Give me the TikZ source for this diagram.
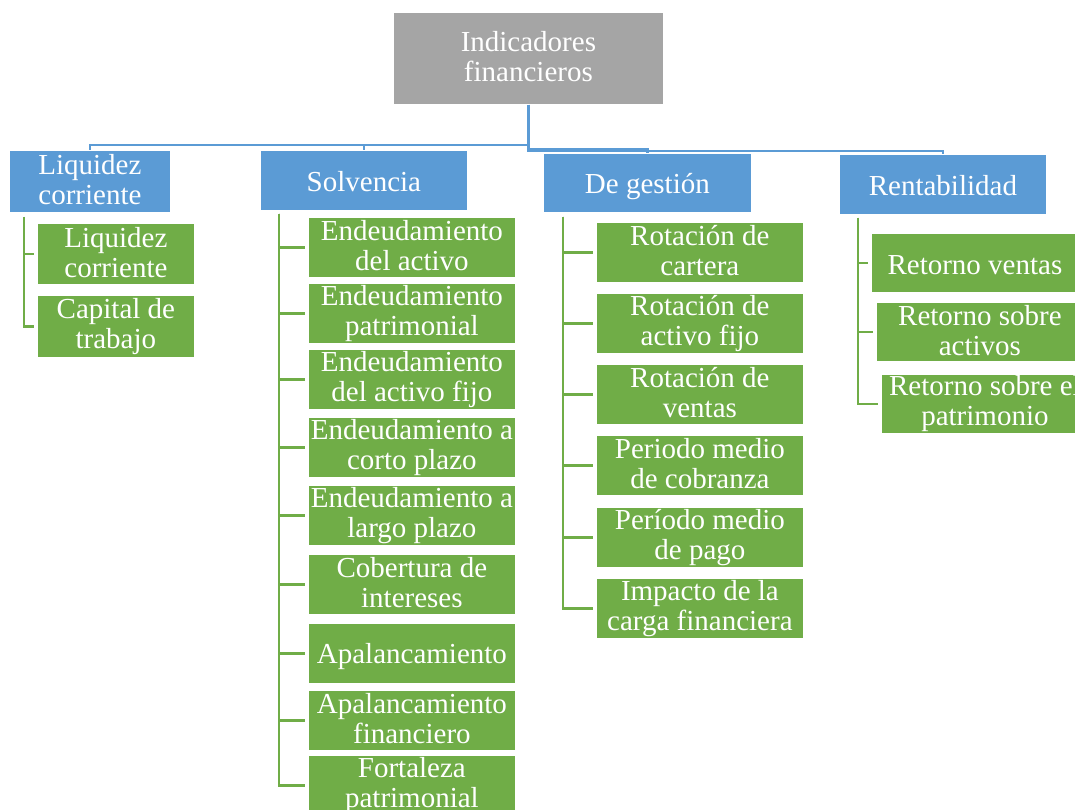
\documentclass[tikz,border=0pt]{standalone}
\usepackage{fontspec}
\setmainfont{Liberation Serif}
\usetikzlibrary{calc}
\definecolor{hdrblue}{HTML}{5B9BD5}
\definecolor{leafgreen}{HTML}{70AD47}
\definecolor{rootgray}{HTML}{A5A5A5}
\newcommand{\topstrut}{\rule{0pt}{26.5pt}}
\newcommand{\botstrut}{\rule[-3.5pt]{0pt}{3.5pt}}
\begin{document}
\begin{tikzpicture}[x=1pt,y=-1pt,
  box/.style={rectangle, anchor=north west, inner sep=0pt, draw=white, line width=0.8pt,
    text=white, align=center, font=\fontsize{29}{30}\selectfont,
    execute at begin node=\topstrut, execute at end node=\botstrut},
  rootbox/.style={box, fill=rootgray},
  hdr/.style={box, fill=hdrblue},
  leaf/.style={box, fill=leafgreen, minimum width=207pt, minimum height=60pt},
  smallleaf/.style={box, fill=leafgreen, minimum width=157pt, minimum height=61pt},
  bline/.style={draw=hdrblue, line width=2.3pt},
  gline/.style={draw=leafgreen, line width=2.6pt},
]
\useasboundingbox (0,0) rectangle (1075,810);
\clip (0,0) rectangle (1075,810);
\fill[white] (0,0) rectangle (1075,810);

% root and headers
\node[rootbox, minimum width=270pt, minimum height=92pt] (root) at (393,12) {Indicadores\\financieros};
\node[hdr, minimum width=161pt, minimum height=62pt] (liqh) at (9,150) {Liquidez\\corriente};
\node[hdr, minimum width=207pt, minimum height=60pt] (solvh) at (260,150) {Solvencia};
\node[hdr, minimum width=208pt, minimum height=59pt] (gesth) at (543,153) {De gestión};
\node[hdr, minimum width=207pt, minimum height=60pt] (renth) at (839,154) {Rentabilidad};

% blue connectors
\draw[bline] (root.south) -- ++(0,40) -| (liqh.north);
\draw[bline] (root.south) -- ++(0,40) -| (solvh.north);
\draw[bline] (root.south) -- ++(0,44) -| (gesth.north);
\draw[bline] (root.south) -- ++(0,46) -| (renth.north);

% Liquidez children
\node[smallleaf] (l1) at (37,223) {Liquidez\\corriente};
\node[smallleaf, minimum height=62pt] (l2) at (37,295) {Capital de\\trabajo};

% Solvencia children
\node[leaf] (s1) at (308,217) {Endeudamiento\\del activo};
\node[leaf] (s2) at (308,283) {Endeudamiento\\patrimonial};
\node[leaf] (s3) at (308,349) {Endeudamiento\\del activo fijo};
\node[leaf] (s4) at (308,417) {Endeudamiento a\\corto plazo};
\node[leaf] (s5) at (308,485) {Endeudamiento a\\largo plazo};
\node[leaf] (s6) at (308,554) {Cobertura de\\intereses};
\node[leaf] (s7) at (308,623) {Apalancamiento};
\node[leaf] (s8) at (308,690) {Apalancamiento\\financiero};
\node[leaf] (s9) at (308,755) {Fortaleza\\patrimonial};

% De gestion children
\node[leaf] (g1) at (596,222) {Rotación de\\cartera};
\node[leaf] (g2) at (596,293) {Rotación de\\activo fijo};
\node[leaf] (g3) at (596,364) {Rotación de\\ventas};
\node[leaf] (g4) at (596,435) {Periodo medio\\de cobranza};
\node[leaf] (g5) at (596,507) {Período medio\\de pago};
\node[leaf] (g6) at (596,578) {Impacto de la\\carga financiera};

% Rentabilidad children
\node[leaf, minimum height=59pt] (r1) at (871,233) {Retorno ventas};
\node[leaf, minimum height=59pt] (r2) at (876,302) {Retorno sobre\\activos};
\node[leaf, minimum height=59pt] (r3) at (881,374) {Retorno sobre el\\patrimonio};

% green connectors
\foreach \c in {l1,l2}
  \draw[gline] ($(liqh.south west)+(15,4)$) |- ([xshift=-3pt]\c.west);
\foreach \c in {s1,s2,s3,s4,s5,s6,s7,s8,s9}
  \draw[gline] ($(solvh.south west)+(19,3)$) |- ([xshift=-3pt]\c.west);
\foreach \c in {g1,g2,g3,g4,g5,g6}
  \draw[gline] ($(gesth.south west)+(20,4)$) |- ([xshift=-3pt]\c.west);
\foreach \c in {r1,r2,r3}
  \draw[gline] ($(renth.south west)+(19,3)$) |- ([xshift=-3pt]\c.west);
\end{tikzpicture}
\end{document}
